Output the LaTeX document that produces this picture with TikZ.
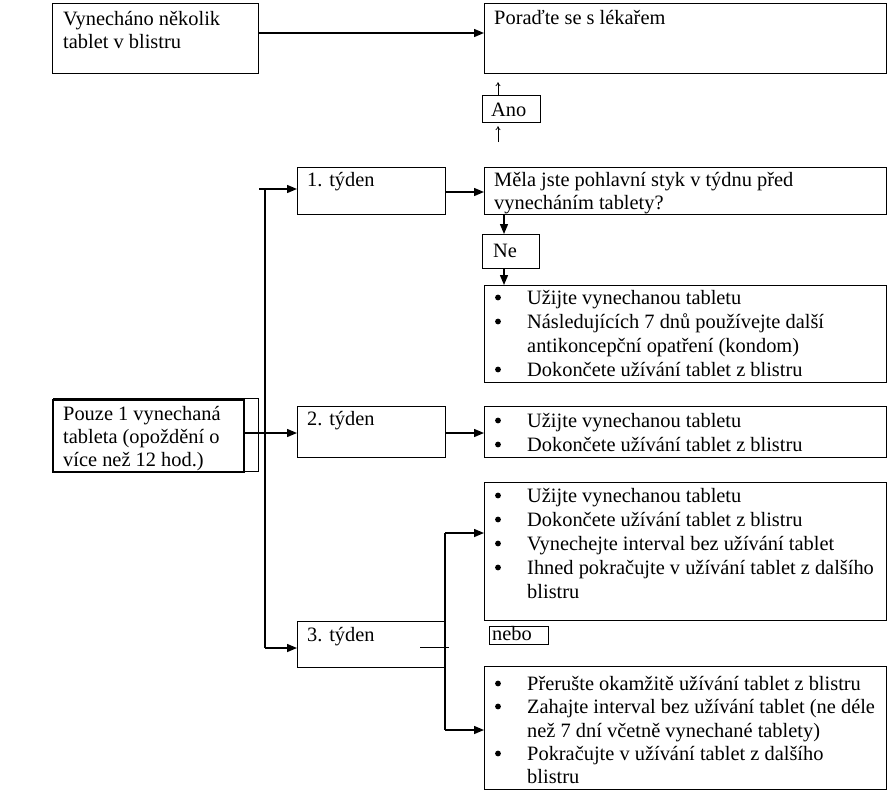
\documentclass[tikz,border=0pt]{standalone}
\usepackage{fontspec}
\setmainfont{Liberation Serif}
\usetikzlibrary{arrows.meta,calc}
\begin{document}
\begin{tikzpicture}[x=1pt,y=-1pt,
  box/.style={draw,line width=1.1pt,inner sep=0pt,anchor=north west},
  tx/.style={anchor=base west,inner sep=0pt,font=\fontsize{20.4}{24}\selectfont},
  bul/.style={circle,fill,inner sep=0pt,minimum size=5.8pt,yshift=6.5pt},
  arr/.style={line width=1.4pt,-{Triangle[length=10pt,width=8pt]}},
  thinarr/.style={line width=0.7pt,-{To[length=4pt,width=5pt]}},
  conn/.style={line width=1.4pt}]
\useasboundingbox (0,0) rectangle (888,790);
\fill[white] (0,0) rectangle (888,790);

% boxes
\node[box,minimum width=206pt,minimum height=70pt] (a) at (52,3) {};
\node[box,minimum width=402pt,minimum height=70pt] (p) at (484,3) {};
\node[box,minimum width=58pt,minimum height=27pt] (ano) at (482,95) {};
\node[box,minimum width=148pt,minimum height=47pt] (w1) at (297,167) {};
\node[box,minimum width=402pt,minimum height=47pt] (m) at (484,167) {};
\node[box,minimum width=57pt,minimum height=34pt] (ne) at (482,234) {};
\node[box,minimum width=402pt,minimum height=97pt] (b1) at (484,285) {};
\node[box,line width=0.7pt,minimum width=205pt,minimum height=73pt] (pout) at (53,398) {};
\node[box,line width=1.6pt,minimum width=191pt,minimum height=72pt] (pin) at (52,399) {};
\node[box,minimum width=148pt,minimum height=51pt] (w2) at (297,406) {};
\node[box,minimum width=402pt,minimum height=51pt] (b2) at (484,406) {};
\node[box,minimum width=402pt,minimum height=138pt] (b3a) at (484,482) {};
\node[box,minimum width=59pt,minimum height=18pt] (nebo) at (489,626) {};
\node[box,minimum width=148pt,minimum height=46pt] (w3) at (297,621) {};
\node[box,minimum width=402pt,minimum height=123pt] (b3b) at (484,666) {};

% texts
\node[tx] (ta1) at (63,25) {Vynecháno několik};
\node[tx] (ta2) at (63,48) {tablet v blistru};
\node[tx] (tp) at (494,24) {Poraďte se s lékařem};
\node[tx] (tano) at (491,116) {Ano};
\node[tx] (tw1) at (307,186) {1. týden};
\node[tx] (tm1) at (494,186) {Měla jste pohlavní styk v týdnu před};
\node[tx] (tm2) at (494,209) {vynecháním tablety?};
\node[tx] (tne) at (493,257) {Ne};

\node[bul] (b1a) at (498,304) {};
\node[tx] (t1a) at (527,304) {Užijte vynechanou tabletu};
\node[bul] (b1b) at (498,328) {};
\node[tx] (t1b) at (527,328) {Následujících 7 dnů používejte další};
\node[tx] (t1c) at (527,352) {antikoncepční opatření (kondom)};
\node[bul] (b1d) at (498,376) {};
\node[tx] (t1d) at (527,376) {Dokončete užívání tablet z blistru};

\node[tx] (tpo1) at (63,420) {Pouze 1 vynechaná};
\node[tx] (tpo2) at (63,443) {tableta (opoždění o};
\node[tx] (tpo3) at (63,466) {více než 12 hod.)};
\node[tx] (tw2) at (307,425) {2. týden};
\node[bul] (b2a) at (498,427) {};
\node[tx] (t2a) at (527,427) {Užijte vynechanou tabletu};
\node[bul] (b2b) at (498,451) {};
\node[tx] (t2b) at (527,451) {Dokončete užívání tablet z blistru};

\node[bul] (b3a1) at (498,502) {};
\node[tx] (t3a1) at (527,502) {Užijte vynechanou tabletu};
\node[bul] (b3a2) at (498,526) {};
\node[tx] (t3a2) at (527,526) {Dokončete užívání tablet z blistru};
\node[bul] (b3a3) at (498,550) {};
\node[tx] (t3a3) at (527,550) {Vynechejte interval bez užívání tablet};
\node[bul] (b3a4) at (498,574) {};
\node[tx] (t3a4) at (527,574) {Ihned pokračujte v užívání tablet z dalšího};
\node[tx] (t3a5) at (527,598) {blistru};

\node[tx] (tnebo) at (492,640) {nebo};
\node[tx] (tw3) at (307,641) {3. týden};

\node[bul] (b3b1) at (498,690) {};
\node[tx] (t3b1) at (527,690) {Přerušte okamžitě užívání tablet z blistru};
\node[bul] (b3b2) at (498,713) {};
\node[tx] (t3b2) at (527,713) {Zahajte interval bez užívání tablet (ne déle};
\node[tx] (t3b3) at (527,737) {než 7 dní včetně vynechané tablety)};
\node[bul] (b3b4) at (498,760) {};
\node[tx] (t3b4) at (527,760) {Pokračujte v užívání tablet z dalšího};
\node[tx] (t3b5) at (527,783) {blistru};

% connectors
\draw[arr] ($(a.north east)+(0,30)$) -- ($(p.north west)+(0,30)$);
\draw[thinarr,shorten >=8pt] ($(ano.north west)+(16,0)$) -- ($(p.south west)+(14,0)$);
\draw[thinarr,shorten <=25pt,shorten >=3pt] ($(m.north west)+(14,0)$) -- ($(ano.south west)+(16,0)$);
\draw[arr] ($(w1.north east)+(0,25)$) -- ($(m.north west)+(0,25)$);
\draw[arr] ($(m.south west)+(20,0)$) -- ($(ne.north west)+(22,0)$);
\draw[arr] ($(ne.south west)+(22,0)$) -- ($(b1.north west)+(20,0)$);

\coordinate (ttop) at (259,189);
\coordinate (tjoin) at (265,189);
\coordinate (tbot) at (265,648);
\draw[conn] (tjoin) -- (tbot);
\draw[arr] (ttop) -- (w1.west |- ttop);
\draw[arr] (tbot) -- (w3.west |- tbot);

\draw[arr] ($(pin.north east)+(0,34)$) -- ($(w2.north west)+(0,27)$);
\draw[arr] ($(w2.north east)+(0,27)$) -- ($(b2.north west)+(0,27)$);

\coordinate (br1) at (445,533);
\coordinate (br2) at (445,730);
\draw[conn] (br1) -- (br2);
\draw[arr] (br1) -- (b3a.west |- br1);
\draw[arr] (br2) -- (b3b.west |- br2);
\coordinate (s1) at (420,647);
\coordinate (s2) at (449,647);
\draw[line width=1pt] (s1) -- (s2);
\end{tikzpicture}
\end{document}
